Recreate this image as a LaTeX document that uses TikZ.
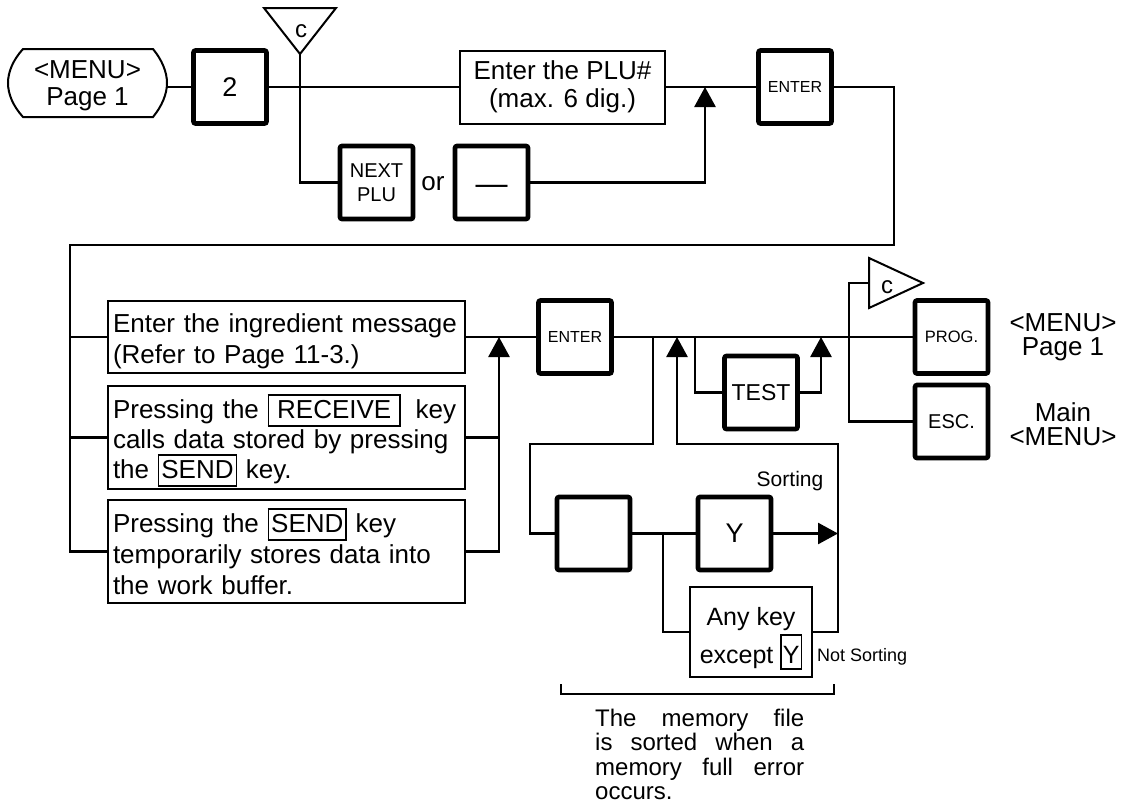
\documentclass[tikz,border=0pt]{standalone}
\usepackage{fontspec}
\setmainfont{Liberation Sans}
\usetikzlibrary{arrows.meta}
\newcommand{\fsz}[2]{\fontsize{#1}{#2}\selectfont}
\setlength{\fboxrule}{1.6pt}
\newcommand{\kb}[1]{{\setlength{\fboxsep}{2pt}\fbox{\rule[-5pt]{0pt}{25pt}#1}}}
\newcommand{\kbY}{{\setlength{\fboxsep}{1pt}\fbox{\rule[-4pt]{0pt}{30pt}Y}}}
\tikzset{
  key/.style={draw, line width=4.6pt, rounded corners=2pt, minimum width=73pt, minimum height=73pt, inner sep=0pt, align=center},
  tbox/.style={draw, line width=2pt, inner sep=0pt},
  ingbox/.style={tbox, minimum width=357pt, text width=347pt, inner xsep=5pt, align=left, text height=19pt},
  conn/.style={line width=2.7pt},
  arr/.style={conn, -{Triangle[length=20pt,width=21pt]}},
  lbl/.style={inner sep=0pt, align=center},
}
\begin{document}
\begin{tikzpicture}[x=1pt,y=-1pt]
\useasboundingbox[fill=white] (0,0) rectangle (1121,804);

% ---- top row ----
\node[lbl, minimum width=159pt, minimum height=68pt, font=\fsz{26}{27}, text height=44pt, text depth=0pt] (menu) at (87.5,83) {<MENU>\\Page 1};
\draw[line width=2pt] (23,49) -- (153,49) .. controls (162,60) and (167,72) .. (167,83)
  .. controls (167,94) and (162,106) .. (153,117) -- (23,117)
  .. controls (13,106) and (8,94) .. (8,83) .. controls (8,72) and (13,60) .. (23,49) -- cycle;
\node[key, font=\fsz{27}{27}] (two) at (230,87) {2};
\node[tbox, minimum width=205pt, minimum height=73pt, align=center, font=\fsz{26}{28}] (plu) at (562.5,87) {Enter the PLU\#\\(max. 6 dig.)};
\node[key, font=\fsz{16}{16}] (enter1) at (795,87) {ENTER};

\draw[line width=2pt] (264,8) -- (336,8) -- (300,54) -- cycle;
\coordinate (tcA) at (300,54);
\node[inner sep=0pt, anchor=base, font=\fsz{24}{24}] (tcl) at (301,37) {c};

\node[key, font=\fsz{20}{24}] (next) at (376.5,182.5) {NEXT\\PLU};
\node[lbl, font=\fsz{26}{26}] (or) at (433,184) {or};
\node[key, font=\fsz{32}{32}] (dash) at (491.5,182.5) {\raisebox{-7.5pt}[\height][\depth]{—}};

\coordinate (j1) at (705,87);
\coordinate (r1) at (894,245);
\coordinate (l1) at (70,245);

\draw[conn] (two.west) -- (two.west -| menu.east);
\draw[conn] (two.east) -- (plu.west);
\draw[conn] (plu.east) -- (enter1.west);
\draw[conn] (tcA) |- (next.west);
\draw[arr] (dash.east) -| (j1);

% ---- ingredient boxes ----
\node[ingbox, minimum height=72pt, text depth=29pt, font=\fsz{26}{31}] (ing1) at (286.5,337) {Enter the ingredient message\\(Refer to Page 11-3.)};
\node[ingbox, minimum height=103pt, text depth=58pt, font=\fsz{26}{30}] (ing2) at (286.5,437.5) {Pressing the \kb{\hspace{6pt}RECEIVE\hspace{6pt}}\hspace{6pt} key\\calls data stored by pressing\\the \kb{SEND} key.};
\node[ingbox, minimum height=103pt, text depth=58pt, font=\fsz{26}{31}] (ing3) at (286.5,551.5) {Pressing the \kb{SEND} key\\temporarily stores data into\\the work buffer.};

\coordinate (j2) at (499,337);
\draw[conn] (enter1.east) -| (r1) -- (l1) |- (ing3.west);
\draw[conn] (l1 |- ing1.west) -- (ing1.west);
\draw[conn] (l1 |- ing2.west) -- (ing2.west);
\draw[arr] (ing3.east) -| (j2);
\draw[conn] (ing2.east) -- (ing2.east -| j2);

% ---- second row ----
\node[key, font=\fsz{16}{16}] (enter2) at (575,337) {ENTER};
\node[key, font=\fsz{23}{23}] (test) at (761,392.5) {TEST};
\node[key, font=\fsz{16.5}{16.5}] (prog) at (951.5,337) {PROG.};
\node[key, font=\fsz{20}{20}] (esc) at (951.5,421.5) {ESC.};
\node[lbl, font=\fsz{26}{24}] (lab1) at (1063,337) {<MENU>\\Page 1};
\node[lbl, font=\fsz{26}{24}] (lab2) at (1063,424) {Main\\<MENU>};

\draw[line width=2pt] (869,258) -- (923,283) -- (869,308) -- cycle;
\coordinate (trA) at (869,283);
\coordinate (k1) at (849,283);
\node[inner sep=0pt, anchor=base, font=\fsz{24}{24}] (trl) at (887,293) {c};

\draw[conn] (ing1.east) -- (enter2.west);
\draw[conn] (enter2.east) -- (prog.west);
\draw[conn] (trA) -- (k1) |- (esc.west);

\coordinate (t1) at (695,337);
\coordinate (t2) at (821,337);
\draw[conn] (t1) |- (test.west);
\draw[arr] (test.east) -| (t2);

% ---- sorting loop ----
\node[key] (blank) at (593.5,533.5) {};
\node[key, font=\fsz{27}{27}] (ybox) at (734.5,533.5) {Y};
\node[tbox, minimum width=122pt, minimum height=90pt, align=center, font=\fsz{25}{38}, text height=62pt, text depth=0pt] (anykey) at (751,632) {Any key\\except \kbY};
\node[lbl, font=\fsz{21}{21}] (sorting) at (790,481) {Sorting};
\node[lbl, anchor=west, font=\fsz{18}{18}] (notsorting) at (817,657) {Not Sorting};

\coordinate (s1) at (653,337);
\coordinate (s2) at (530,444);
\coordinate (s3) at (838,533.5);
\coordinate (s5) at (838,444);
\coordinate (s7) at (677,337);
\coordinate (s8) at (663,533.5);
\draw[conn] (s1) |- (s2) |- (blank.west);
\draw[conn] (blank.east) -- (ybox.west);
\draw[arr] (ybox.east) -- (s3);
\draw[arr] (anykey.east) -| (s5) -| (s7);
\draw[conn] (s8) |- (anykey.west);

% ---- bracket and note ----
\coordinate (b1) at (561,684);
\coordinate (b2) at (834,684);
\draw[conn] (b1) -- (b1 |- 0,694) -- (b2 |- 0,694) -- (b2);
\node[anchor=north west, inner sep=0pt, align=left, font=\fsz{24}{24.5}] (note) at (595,708.5) {\makebox[209pt][s]{The memory file}\\\makebox[209pt][s]{is sorted when a}\\\makebox[209pt][s]{memory full error}\\occurs.};
\end{tikzpicture}
\end{document}
